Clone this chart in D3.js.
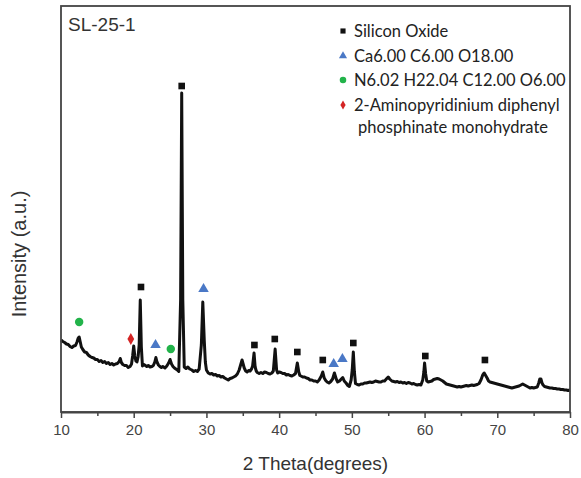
<!DOCTYPE html>
<html><head><meta charset="utf-8">
<script src="https://cdn.jsdelivr.net/npm/d3@7"></script>
<style>html,body{margin:0;padding:0;background:#fff;}svg{display:block;}</style>
</head><body>
<svg id="chart" width="581" height="478"></svg>
<script>
// ---- data ----
const sampleName = "SL-25-1";
const xLabel = "2 Theta(degrees)";
const yLabel = "Intensity (a.u.)";
const xTicksMajor = [10, 20, 30, 40, 50, 60, 70, 80];
const xTicksMinor = [15, 25, 35, 45, 55, 65, 75];
// pattern: [2theta, counts]
const pattern = [
[10.0,720],[10.25,705],[10.5,695],[10.75,680],[11.0,675],[11.25,655],[11.5,645],[11.75,660],[12.0,665],[12.2,700],
[12.35,735],[12.5,750],[12.65,700],[12.8,650],[13.0,625],[13.25,600],[13.5,595],[13.75,570],[14.0,555],[14.25,545],
[14.5,540],[14.75,525],[15.0,525],[15.25,505],[15.5,515],[15.75,495],[16.0,505],[16.25,485],[16.5,495],[16.75,475],
[17.0,485],[17.25,470],[17.5,480],[17.75,485],[18.0,505],[18.15,535],[18.3,495],[18.5,475],[18.75,465],[19.0,465],
[19.25,445],[19.5,455],[19.7,480],[19.85,560],[20.0,660],[20.15,560],[20.3,510],[20.45,500],[20.6,550],[20.75,670],
[20.9,1120],[21.05,650],[21.2,460],[21.4,475],[21.6,465],[21.8,455],[22.0,465],[22.25,450],[22.5,455],[22.7,465],
[22.9,500],[23.05,545],[23.2,500],[23.4,470],[23.6,455],[23.8,445],[24.0,455],[24.3,440],[24.55,460],[24.8,490],
[25.0,525],[25.2,480],[25.4,455],[25.6,440],[25.8,430],[26.0,420],[26.2,405],[26.45,1120],[26.6,3190],[26.75,1120],
[26.95,450],[27.2,435],[27.45,450],[27.7,430],[28.0,420],[28.25,405],[28.5,415],[28.75,405],[29.0,430],[29.3,670],
[29.5,1100],[29.7,720],[29.85,500],[30.0,420],[30.25,390],[30.5,380],[30.75,385],[31.0,370],[31.25,375],[31.5,360],
[31.75,365],[32.0,350],[32.25,355],[32.5,340],[32.75,330],[33.0,320],[33.25,335],[33.5,340],[33.75,350],[34.0,360],
[34.25,380],[34.5,420],[34.7,470],[34.9,520],[35.05,480],[35.2,440],[35.4,410],[35.6,400],[35.8,415],[36.0,410],
[36.2,430],[36.35,460],[36.55,590],[36.7,450],[36.85,410],[37.0,395],[37.25,385],[37.5,395],[37.75,385],[38.0,400],
[38.25,395],[38.5,385],[38.75,380],[39.0,390],[39.2,410],[39.45,630],[39.65,420],[39.8,390],[40.0,400],[40.25,395],
[40.5,385],[40.75,385],[41.0,370],[41.25,375],[41.5,365],[41.75,360],[42.0,370],[42.25,385],[42.5,490],[42.7,400],
[42.85,365],[43.0,360],[43.25,350],[43.5,350],[43.75,340],[44.0,335],[44.25,320],[44.5,320],[44.75,310],[45.0,310],
[45.25,300],[45.5,320],[45.8,360],[46.0,400],[46.2,340],[46.4,315],[46.6,300],[46.85,290],[47.1,305],[47.35,330],
[47.6,390],[47.85,330],[48.05,300],[48.3,310],[48.55,330],[48.75,345],[48.95,310],[49.2,290],[49.45,265],[49.65,255],
[49.9,320],[50.05,420],[50.2,600],[50.35,400],[50.5,285],[50.75,275],[51.0,270],[51.25,280],[51.5,280],[51.75,290],
[52.0,290],[52.25,295],[52.5,300],[52.75,295],[53.0,300],[53.25,310],[53.5,305],[53.75,300],[54.0,300],[54.25,310],
[54.5,310],[54.8,335],[55.0,350],[55.2,330],[55.5,310],[55.75,305],[56.0,300],[56.25,305],[56.5,295],[56.75,300],
[57.0,290],[57.25,295],[57.5,285],[57.75,295],[58.0,290],[58.25,280],[58.5,285],[58.75,275],[59.0,270],[59.25,275],
[59.5,270],[59.75,320],[59.9,400],[60.0,490],[60.15,380],[60.3,310],[60.5,300],[60.75,305],[61.0,310],[61.25,325],
[61.5,330],[61.75,335],[62.0,330],[62.25,320],[62.5,310],[62.75,295],[63.0,280],[63.25,275],[63.5,270],[63.75,265],
[64.0,260],[64.25,255],[64.5,250],[64.75,255],[65.0,250],[65.25,255],[65.5,260],[65.75,265],[66.0,260],[66.25,265],
[66.5,270],[66.75,265],[67.0,270],[67.25,275],[67.5,285],[67.75,320],[68.0,370],[68.2,390],[68.4,365],[68.6,340],
[68.8,310],[69.0,300],[69.25,295],[69.5,290],[69.75,285],[70.0,280],[70.25,275],[70.5,270],[70.75,265],[71.0,260],
[71.25,255],[71.5,250],[71.75,245],[72.0,240],[72.25,245],[72.5,250],[72.75,255],[73.0,260],[73.25,270],[73.5,280],
[73.75,270],[74.0,260],[74.25,250],[74.5,240],[74.75,245],[75.0,240],[75.25,245],[75.5,250],[75.7,290],[75.85,330],
[76.0,330],[76.15,290],[76.3,270],[76.5,255],[76.75,250],[77.0,245],[77.25,240],[77.5,240],[77.75,235],[78.0,235],
[78.25,230],[78.5,230],[78.75,225],[79.0,225],[79.25,220],[79.5,220],[79.75,215],[80.0,220]
];
// phase markers: [2theta, counts]
const siliconOxide = [[21.0,1250],[26.6,3260],[36.6,670],[39.4,730],[42.5,600],[46.0,520],[50.2,690],[60.1,560],[68.3,520]];
const calciumPhase = [[23.0,670],[29.6,1230],[47.5,480],[48.7,530]];
const nitrogenPhase = [[12.5,900],[25.1,630]];
const aminoPhase = [[19.6,730]];
const legendLabels = [["Silicon Oxide"],["Ca6.00 C6.00 O18.00"],["N6.02 H22.04 C12.00 O6.00"],["2-Aminopyridinium diphenyl","phosphinate monohydrate"]];

// ---- chart ----
const svg = d3.select("#chart");
const L = 61, R = 570, T = 6, B = 412;
const x = d3.scaleLinear().domain([10, 80]).range([L, R]);
const y = d3.scaleLinear().domain([0, 4060]).range([B, T]);

const line = d3.line().x(d => x(d[0])).y(d => y(d[1]));
svg.append("path").datum(pattern).attr("d", line)
  .attr("fill", "none").attr("stroke", "#111").attr("stroke-width", 3)
  .attr("stroke-linejoin", "round");

// frame
svg.append("rect").attr("x", L).attr("y", T).attr("width", R - L).attr("height", B - T)
  .attr("fill", "none").attr("stroke", "#444").attr("stroke-width", 1.8);

// x axis
const axis = svg.append("g").attr("transform", `translate(0,${B})`)
  .call(d3.axisBottom(x).tickValues(xTicksMajor).tickSize(6).tickSizeOuter(0).tickFormat(d3.format("d")));
axis.select(".domain").attr("stroke", "#444").attr("stroke-width", 1.8);
axis.selectAll(".tick line").attr("stroke", "#444").attr("stroke-width", 1.5);
axis.selectAll(".tick text").attr("font-family", "Liberation Sans, Arial, sans-serif")
  .attr("font-size", 15).attr("fill", "#444").attr("dy", "0.95em");
const minor = svg.append("g").attr("transform", `translate(0,${B})`)
  .call(d3.axisBottom(x).tickValues(xTicksMinor).tickSize(4).tickFormat(""));
minor.select(".domain").remove();
minor.selectAll(".tick line").attr("stroke", "#444").attr("stroke-width", 1.5);

svg.append("text").attr("x", (L + R) / 2).attr("y", 470).attr("text-anchor", "middle")
  .attr("font-family", "Liberation Sans, Arial, sans-serif").attr("font-size", 19).attr("fill", "#333").text(xLabel);
svg.append("text").attr("transform", "translate(26,254) rotate(-90)").attr("text-anchor", "middle")
  .attr("font-family", "Liberation Sans, Arial, sans-serif").attr("font-size", 20).attr("fill", "#333").text(yLabel);
svg.append("text").attr("x", 68).attr("y", 31)
  .attr("font-family", "Liberation Sans, Arial, sans-serif").attr("font-size", 19).attr("fill", "#333").text(sampleName);

// marker shapes
const colors = ["#111111", "#4a78c6", "#22b34a", "#d42424"];
const shapes = [d3.symbolSquare, d3.symbolTriangle, d3.symbolCircle, d3.symbolDiamond];
const sizes = [44, 48, 56, 40];
const phases = [siliconOxide, calciumPhase, nitrogenPhase, aminoPhase];
phases.forEach((arr, i) => {
  svg.append("g").selectAll("path").data(arr).join("path")
    .attr("transform", d => `translate(${x(d[0])},${y(d[1])})`)
    .attr("d", d3.symbol().type(shapes[i]).size(sizes[i])).attr("fill", colors[i]);
});

// legend
const lg = svg.append("g");
const rowY = [31, 56, 80, 105];
legendLabels.forEach((lines, i) => {
  lg.append("path").attr("transform", `translate(343,${rowY[i]})`)
    .attr("d", d3.symbol().type(shapes[i]).size(sizes[i] * 0.6)).attr("fill", colors[i]);
  lines.forEach((t, j) => {
    lg.append("text").attr("x", j === 0 ? 354 : 358).attr("y", rowY[i] + j * 22).attr("dy", "0.35em")
      .attr("font-family", "Lato, 'Open Sans', sans-serif").attr("font-size", 16.5).attr("fill", "#222").text(t);
  });
});
</script>
</body></html>
